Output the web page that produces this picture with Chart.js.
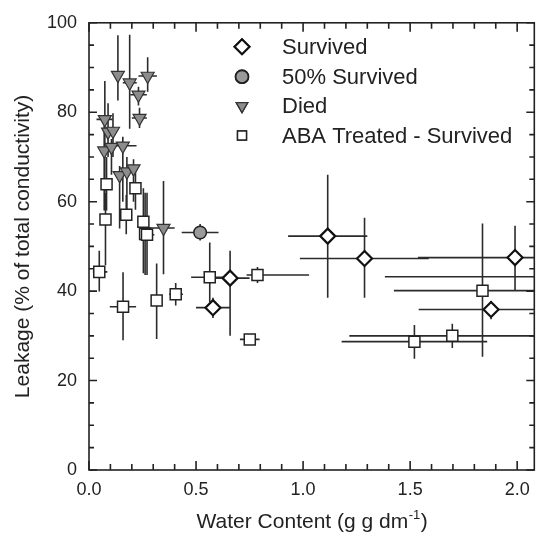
<!DOCTYPE html>
<html>
<head>
<meta charset="utf-8">
<script src="https://cdn.jsdelivr.net/npm/chart.js@4.4.1/dist/chart.umd.min.js"></script>
<style>
  html, body { margin: 0; padding: 0; background: #fff; }
  #wrap { width: 544px; height: 534px; }
</style>
</head>
<body>
<div id="wrap"><canvas id="chart"></canvas></div>
<script>
// Valeurs : [x, y, xMin, xMax, yMin, yMax]
const xTicks = [0, 0.5, 1.0, 1.5, 2.0];
const yTicks = [0, 20, 40, 60, 80, 100];

const survived = [
    [0.579, 36.3, 0.500, 0.660, 34.0, 38.5],
    [0.659, 42.9, 0.590, 0.750, 30.0, 49.0],
    [1.115, 52.3, 0.930, 1.300, 38.5, 66.0],
    [1.287, 47.3, 0.985, 1.587, 38.5, 56.4],
    [1.878, 35.9, 1.540, 2.250, 33.7, 37.8],
    [1.990, 47.5, 1.537, 2.450, 40.1, 54.6],
    [2.250, 43.2, 1.382, 3.000, 43.2, 43.2],
];

const halfSurvived = [
    [0.519, 53.1, 0.433, 0.605, 51.3, 55.0],
];

const died = [
    [0.135, 88.3, 0.115, 0.155, 82.6, 97.2],
    [0.190, 86.6, 0.158, 0.223, 76.3, 97.3],
    [0.274, 88.1, 0.231, 0.317, 84.6, 92.3],
    [0.231, 83.9, 0.193, 0.270, 81.5, 85.7],
    [0.236, 78.7, 0.200, 0.270, 76.5, 81.0],
    [0.074, 78.4, 0.035, 0.110, 62.0, 87.0],
    [0.089, 75.6, 0.070, 0.110, 70.0, 82.0],
    [0.112, 75.8, 0.095, 0.130, 70.0, 79.8],
    [0.071, 71.4, 0.055, 0.090, 58.0, 77.0],
    [0.105, 72.2, 0.090, 0.120, 66.0, 74.0],
    [0.158, 72.5, 0.097, 0.222, 60.0, 74.5],
    [0.143, 65.9, 0.125, 0.160, 54.0, 68.0],
    [0.177, 66.7, 0.160, 0.195, 58.0, 70.0],
    [0.208, 67.4, 0.190, 0.225, 60.0, 69.5],
    [0.348, 54.1, 0.280, 0.400, 43.8, 64.6],
];

const abaSurvived = [
    [0.048, 44.3, 0.018, 0.086, 39.9, 49.0],
    [0.077, 56.0, 0.065, 0.090, 45.8, 62.0],
    [0.082, 63.9, 0.070, 0.095, 58.0, 70.0],
    [0.159, 36.5, 0.097, 0.220, 29.0, 44.2],
    [0.174, 57.1, 0.155, 0.200, 52.7, 61.5],
    [0.217, 63.0, 0.200, 0.235, 58.2, 66.7],
    [0.254, 55.5, 0.235, 0.275, 44.0, 63.0],
    [0.262, 52.8, 0.240, 0.285, 43.6, 62.0],
    [0.271, 52.6, 0.235, 0.305, 43.6, 62.0],
    [0.316, 37.9, 0.290, 0.340, 29.3, 46.2],
    [0.405, 39.3, 0.374, 0.439, 36.8, 41.8],
    [0.564, 43.1, 0.477, 0.650, 37.5, 50.9],
    [0.787, 43.6, 0.736, 1.028, 41.8, 45.4],
    [0.751, 29.2, 0.705, 0.797, 29.2, 29.2],
    [1.520, 28.7, 1.180, 1.860, 24.9, 32.4],
    [1.697, 30.0, 1.216, 2.300, 27.3, 32.7],
    [1.838, 40.1, 1.424, 2.300, 25.3, 55.1],
];

const FONT = '"Liberation Sans", Arial, Helvetica, sans-serif';
const INK  = '#222';

const toPoints = (rows) => rows.map((r) => ({
    x: r[0], y: r[1], xMin: r[2], xMax: r[3], yMin: r[4], yMax: r[5],
}));

// barres d'erreur, sous les symboles
const errorBars = {
    id: 'errorBars',
    beforeDatasetsDraw(chart) {
        const { ctx, chartArea: a, scales: { x, y } } = chart;
        ctx.save();
        ctx.beginPath();
        ctx.rect(a.left, a.top, a.right - a.left, a.bottom - a.top);
        ctx.clip();
        ctx.strokeStyle = '#2b2b2b';
        ctx.lineWidth = 1.6;
        chart.data.datasets.forEach((ds) => {
            ds.data.forEach((p) => {
                const px = x.getPixelForValue(p.x);
                const py = y.getPixelForValue(p.y);
                ctx.beginPath();
                ctx.moveTo(x.getPixelForValue(p.xMin), py);
                ctx.lineTo(x.getPixelForValue(p.xMax), py);
                ctx.moveTo(px, y.getPixelForValue(p.yMin));
                ctx.lineTo(px, y.getPixelForValue(p.yMax));
                ctx.stroke();
            });
        });
        ctx.restore();
    },
};

// cadre, graduations internes, légende et titres des axes
const frame = {
    id: 'frame',
    afterDraw(chart) {
        const { ctx, chartArea: a, scales: { x, y } } = chart;
        ctx.save();
        ctx.strokeStyle = INK;
        ctx.lineWidth = 1.6;
        ctx.strokeRect(a.left, a.top, a.right - a.left, a.bottom - a.top);

        ctx.beginPath();
        for (let i = 0; i * 0.1 <= x.max + 1e-9; i++) {
            const px = x.getPixelForValue(i * 0.1);
            const len = i % 5 === 0 ? 9 : 6;
            ctx.moveTo(px, a.bottom); ctx.lineTo(px, a.bottom - len);
            ctx.moveTo(px, a.top);    ctx.lineTo(px, a.top + len);
        }
        for (let v = 0; v <= y.max; v += 5) {
            const py = y.getPixelForValue(v);
            const len = v % 20 === 0 ? 8 : 5;
            ctx.moveTo(a.left, py);  ctx.lineTo(a.left + len, py);
            ctx.moveTo(a.right, py); ctx.lineTo(a.right - len, py);
        }
        ctx.stroke();

        // légende
        ctx.font = '22px ' + FONT;
        ctx.fillStyle = INK;
        ctx.textBaseline = 'middle';
        ctx.textAlign = 'left';
        const rows = [46.7, 76.7, 106, 135.5];
        const sizes = [7.5, 6.3, 6.5, 6.4];
        chart.data.datasets.forEach((ds, i) => {
            Chart.helpers.drawPoint(ctx, {
                pointStyle: ds.pointStyle,
                rotation: ds.rotation || 0,
                radius: sizes[i],
                borderWidth: ds.pointBorderWidth,
            }, 242, rows[i]);
            ctx.fillStyle = ds.backgroundColor;
            ctx.strokeStyle = ds.borderColor;
            ctx.lineWidth = ds.pointBorderWidth;
            ctx.fill();
            ctx.stroke();
            ctx.fillStyle = INK;
            ctx.fillText(ds.label, 282, rows[i] + 1);
        });

        // titre axe x avec exposant
        const cx = (a.left + a.right) / 2;
        const main = 'Water Content (g g dm';
        const sup = '-1';
        const tail = ')';
        ctx.textBaseline = 'alphabetic';
        ctx.font = '21px ' + FONT;
        const wMain = ctx.measureText(main).width;
        const wTail = ctx.measureText(tail).width;
        ctx.font = '13px ' + FONT;
        const wSup = ctx.measureText(sup).width;
        let sx = cx - (wMain + wSup + wTail) / 2;
        const base = 528;
        ctx.font = '21px ' + FONT;
        ctx.fillText(main, sx, base);
        sx += wMain;
        ctx.font = '13px ' + FONT;
        ctx.fillText(sup, sx + 0.5, base - 9);
        sx += wSup + 1;
        ctx.font = '21px ' + FONT;
        ctx.fillText(tail, sx, base);

        // titre axe y
        ctx.translate(23, (a.top + a.bottom) / 2);
        ctx.rotate(-Math.PI / 2);
        ctx.textAlign = 'center';
        ctx.textBaseline = 'middle';
        ctx.fillText('Leakage (% of total conductivity)', 0, 0);
        ctx.restore();
    },
};

new Chart(document.getElementById('chart'), {
    type: 'scatter',
    data: {
        datasets: [
            {
                label: 'Survived',
                data: toPoints(survived),
                pointStyle: 'rectRot',
                pointRadius: 7.5,
                backgroundColor: '#fff',
                borderColor: '#111',
                pointBorderWidth: 2.2,
            },
            {
                label: '50% Survived',
                data: toPoints(halfSurvived),
                pointStyle: 'circle',
                pointRadius: 6.3,
                backgroundColor: '#9a9a9a',
                borderColor: '#222',
                pointBorderWidth: 1.5,
            },
            {
                label: 'Died',
                data: toPoints(died),
                pointStyle: 'triangle',
                rotation: 180,
                pointRadius: 7.5,
                backgroundColor: '#8c8c8c',
                borderColor: '#333',
                pointBorderWidth: 1.2,
            },
            {
                label: 'ABA Treated - Survived',
                data: toPoints(abaSurvived),
                pointStyle: 'rect',
                pointRadius: 7.8,
                backgroundColor: '#fff',
                borderColor: '#222',
                pointBorderWidth: 1.5,
            },
        ],
    },
    options: {
        responsive: true,
        maintainAspectRatio: false,
        animation: false,
        events: [],
        layout: { padding: { left: 0, right: 5, top: 15, bottom: 0 } },
        plugins: {
            legend: { display: false },
            tooltip: { enabled: false },
        },
        scales: {
            x: {
                type: 'linear',
                min: 0,
                max: 2.08,
                afterFit: (s) => { s.height = 64; },
                afterBuildTicks: (s) => { s.ticks = xTicks.map((v) => ({ value: v })); },
                ticks: {
                    color: INK,
                    padding: 9,
                    font: { family: FONT, size: 18 },
                    callback: (v) => Number(v).toFixed(1),
                },
                grid: { display: false, drawTicks: false },
                border: { display: false },
            },
            y: {
                type: 'linear',
                min: 0,
                max: 100,
                afterFit: (s) => { s.width = 89; },
                afterBuildTicks: (s) => { s.ticks = yTicks.map((v) => ({ value: v })); },
                ticks: {
                    color: INK,
                    padding: 12,
                    font: { family: FONT, size: 18 },
                },
                grid: { display: false, drawTicks: false },
                border: { display: false },
            },
        },
    },
    plugins: [errorBars, frame],
});
</script>
</body>
</html>
